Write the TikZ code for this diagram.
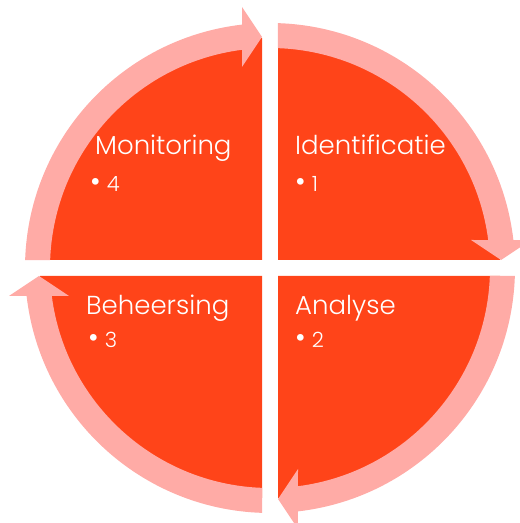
\documentclass[tikz,border=0pt]{standalone}
\usepackage{fontspec}
\IfFontExistsTF{Poppins Light}{\setmainfont{Poppins Light}}{\setmainfont{Poppins}}
\usetikzlibrary{calc}
\definecolor{secred}{HTML}{FF4419}
\definecolor{ringpink}{HTML}{FFABA6}
\newcommand{\bigdot}{{\fontsize{29}{29}\selectfont •}}
\begin{document}
\begin{tikzpicture}[x=1pt,y=1pt,
  sector/.style={fill=secred},
  ringarrow/.style={fill=ringpink},
  titletext/.style={text=white,font=\fontsize{26}{26}\selectfont,anchor=base west,inner sep=0pt},
  itemtext/.style={text=white,font=\fontsize{21}{21}\selectfont,anchor=base west,inner sep=0pt}]
\useasboundingbox (0,0) rectangle (520,523);
\clip (0,0) rectangle (520,523);
\coordinate (C) at (270,255);
% quarter sectors
\fill[sector] ($(C)+(8,8)$) -- ++(0:222) arc[start angle=0,end angle=90,radius=222] -- cycle;
\fill[sector] ($(C)+(-8,8)$) -- ++(90:222) arc[start angle=90,end angle=180,radius=222] -- cycle;
\fill[sector] ($(C)+(-8,-8)$) -- ++(180:222) arc[start angle=180,end angle=270,radius=222] -- cycle;
\fill[sector] ($(C)+(8,-8)$) -- ++(270:222) arc[start angle=270,end angle=360,radius=222] -- cycle;
% circular arrows
\foreach \k in {0,1,2,3}{
  \begin{scope}[shift={(C)},rotate=-90*\k]
    \fill[ringarrow] (88.13:245) arc[start angle=88.13,end angle=6.56,radius=245]
      -- (261,28) -- (231,8) -- (201,28) -- (7.31:220)
      arc[start angle=7.31,end angle=87.92,radius=220] -- cycle;
  \end{scope}
}
% texts
\node[titletext] (t1) at (295,368) {Identificatie};
\node[itemtext] (i1) at (295,331) {\bigdot\hspace{6pt}1};
\node[titletext] (t4) at (95,368) {Monitoring};
\node[itemtext] (i4) at (90,331) {\bigdot\hspace{6pt}4};
\node[titletext] (t3) at (86,208) {Beheersing};
\node[itemtext] (i3) at (88,175) {\bigdot\hspace{6pt}3};
\node[titletext] (t2) at (295,208) {Analyse};
\node[itemtext] (i2) at (295,175) {\bigdot\hspace{6pt}2};
\end{tikzpicture}
\end{document}
